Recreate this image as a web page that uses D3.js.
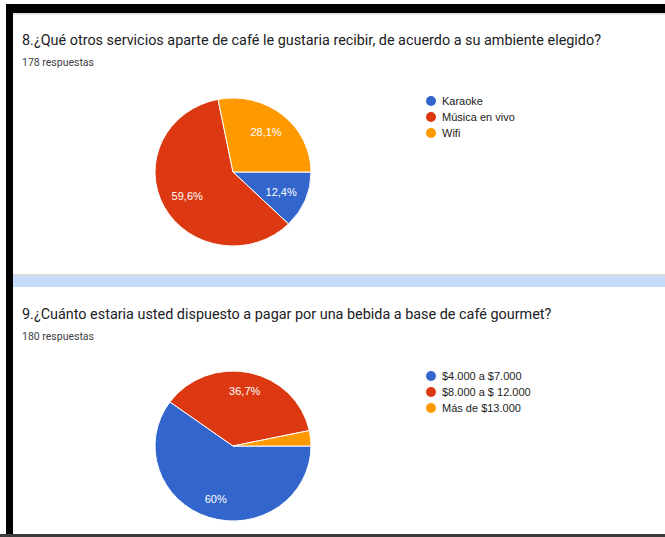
<!DOCTYPE html>
<html><head><meta charset="utf-8">
<script src="https://cdn.jsdelivr.net/npm/d3@7"></script>
<style>html,body{margin:0;padding:0;background:#fff;overflow:hidden}</style>
</head><body>
<svg id="c" width="665" height="537"></svg>
<script>
const chart1Title = "8.¿Qué otros servicios aparte de café le gustaria recibir, de acuerdo a su ambiente elegido?";
const chart1Count = "178 respuestas";
const chart1Labels = ["Karaoke", "Música en vivo", "Wifi"];
const chart1Values = [12.4, 59.6, 28.1];

const chart2Title = "9.¿Cuánto estaria usted dispuesto a pagar por una bebida a base de café gourmet?";
const chart2Count = "180 respuestas";
const chart2Labels = ["$4.000 a $7.000", "$8.000 a $ 12.000", "Más de $13.000"];
const chart2Values = [60, 36.7, 3.3];

const sliceColors = ["#3366cc", "#dc3912", "#ff9900"];

const svg = d3.select("#c");

// frame
svg.append("rect").attr("x", 6).attr("y", 4).attr("width", 659).attr("height", 9).attr("fill", "#000");
svg.append("rect").attr("x", 6).attr("y", 4).attr("width", 7).attr("height", 533).attr("fill", "#000");
svg.append("rect").attr("x", 13).attr("y", 13).attr("width", 652).attr("height", 2).attr("fill", "#e3e3ea");
// separator
svg.append("rect").attr("x", 13).attr("y", 274).attr("width", 652).attr("height", 2).attr("fill", "#dadce0");
svg.append("rect").attr("x", 13).attr("y", 276).attr("width", 652).attr("height", 11).attr("fill", "#c6dafc");
// bottom line
svg.append("rect").attr("x", 0).attr("y", 534).attr("width", 665).attr("height", 3).attr("fill", "#3c3c3c");

function fmt(v) {
  return (Number.isInteger(v) ? String(v) : String(v).replace(".", ",")) + "%";
}

function drawChart(cfg) {
  const g = svg.append("g");
  g.append("text").attr("x", 22).attr("y", cfg.titleY)
    .attr("font-family", "Roboto, sans-serif").attr("font-size", 14.4)
    .attr("fill", "#202124").text(cfg.title);
  g.append("text").attr("x", 22).attr("y", cfg.countY)
    .attr("font-family", "Roboto, sans-serif").attr("font-size", 10.5)
    .attr("fill", "#3c4043").text(cfg.count);

  const r = 78;
  const sy = cfg.ry / r;
  const pie = d3.pie().sort(null).value(d => d.v)
    .startAngle(Math.PI / 2).endAngle(Math.PI / 2 + 2 * Math.PI);
  const data = cfg.labels.map((l, i) => ({ l, v: cfg.values[i], c: sliceColors[i] }));
  const arcs = pie(data);
  const arc = d3.arc().innerRadius(0).outerRadius(r);
  const labelArc = d3.arc().innerRadius(cfg.labelR).outerRadius(cfg.labelR);
  const pg = g.append("g").attr("transform", `translate(${cfg.cx},${cfg.cy}) scale(1,${sy})`);
  pg.selectAll("path").data(arcs).join("path")
    .attr("d", arc).attr("fill", d => d.data.c)
    .attr("stroke", "#fff").attr("stroke-width", 1).attr("vector-effect", "non-scaling-stroke");
  g.selectAll("text.pl").data(arcs.filter(d => d.data.v > 5)).join("text")
    .attr("class", "pl")
    .attr("transform", d => { const c = labelArc.centroid(d); return `translate(${cfg.cx + c[0]},${cfg.cy + c[1]})`; })
    .attr("text-anchor", "middle").attr("dy", "0.35em")
    .attr("font-family", "Arial, 'Liberation Sans', sans-serif").attr("font-size", 11)
    .attr("fill", "#fff").text(d => fmt(d.data.v));

  const lg = g.append("g").attr("transform", `translate(431,${cfg.legendY})`);
  const items = lg.selectAll("g").data(data).join("g")
    .attr("transform", (d, i) => `translate(0,${i * 16})`);
  items.append("circle").attr("r", 5).attr("fill", d => d.c);
  items.append("text").attr("x", 11).attr("dy", "0.35em")
    .attr("font-family", "Arial, 'Liberation Sans', sans-serif").attr("font-size", 11)
    .attr("fill", "#222").text(d => d.l);
}

drawChart({ title: chart1Title, count: chart1Count, labels: chart1Labels, values: chart1Values,
  titleY: 45, countY: 66, cx: 233, cy: 172, ry: 74, labelR: 52, legendY: 101 });
drawChart({ title: chart2Title, count: chart2Count, labels: chart2Labels, values: chart2Values,
  titleY: 319, countY: 340, cx: 233, cy: 446, ry: 75, labelR: 56, legendY: 376 });
</script>
</body></html>
